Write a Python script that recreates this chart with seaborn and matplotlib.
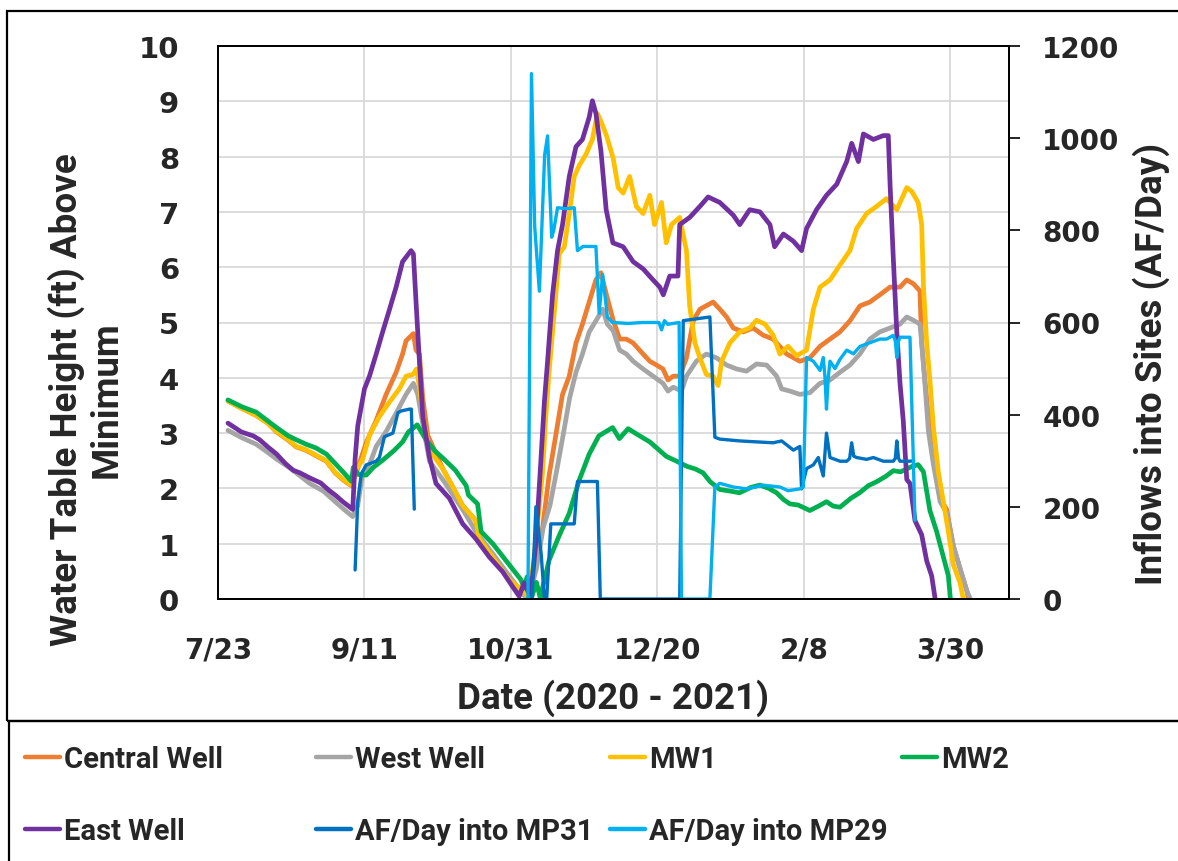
import numpy as np
import pandas as pd
import matplotlib
matplotlib.use("Agg")
import matplotlib.pyplot as plt
import seaborn as sns
from matplotlib.lines import Line2D
from matplotlib.patches import Rectangle

# ---------------- data ----------------
START = pd.Timestamp("2020-07-23")
x_tick_days = [0, 50, 100, 150, 200, 250]
x_tick_labels = ["7/23", "9/11", "10/31", "12/20", "2/8", "3/30"]
left_ticks = list(range(0, 11))
right_ticks = [0, 200, 400, 600, 800, 1000, 1200]

central_days = [3.4, 8, 13, 17, 20, 24, 26.7, 30, 33.5, 37, 40, 43, 45.5, 47.7, 50.6, 54, 57.4, 60.8, 63, 64.2,
                66.7, 67.6, 68.75, 69.9, 71.6, 76.7, 80.1, 83.5, 88, 89.2, 93.75, 99.4, 104, 106.3, 109.1, 110.8,
                113, 115.3, 117.6, 119.9, 122.2, 124.4, 126.7, 129, 130.7, 132.6, 134.9, 137.1, 139.4, 141.7,
                145.1, 147.4, 149.7, 151.9, 153.6, 155.4, 157.6, 159.9, 162.2, 164.5, 169, 171.3, 173.6, 175.9,
                179.3, 182.7, 186.1, 189.5, 194.1, 198.6, 202, 205.5, 208.9, 212.3, 215.7, 219.1, 222.5, 225.9,
                229.4, 232.8, 235.1, 237.4, 239.6, 240.2, 241.3, 243, 244.8, 246.5, 248.7, 251, 253.3, 255.6, 256.2]
central_ft = [3.58, 3.45, 3.32, 3.18, 3.02, 2.87, 2.75, 2.69, 2.59, 2.49, 2.28, 2.14, 2.05, 2.36, 2.83, 3.23, 3.70,
              4.10, 4.43, 4.67, 4.80, 4.50, 4.43, 3.63, 2.96, 2.36, 2.03, 1.69, 1.42, 1.09, 0.76, 0.35, 0.15, 0.0,
              0.82, 1.29, 2.23, 2.96, 3.70, 4.03, 4.63, 4.97, 5.37, 5.77, 5.90, 5.50, 5.04, 4.70, 4.70, 4.63, 4.43,
              4.30, 4.23, 4.16, 3.96, 4.03, 4.03, 4.36, 5.03, 5.24, 5.37, 5.24, 5.10, 4.90, 4.83, 4.90, 4.77, 4.70,
              4.43, 4.30, 4.36, 4.57, 4.70, 4.83, 5.03, 5.30, 5.37, 5.50, 5.64, 5.64, 5.77, 5.70, 5.57, 4.63, 3.96,
              3.03, 2.49, 1.82, 1.62, 0.96, 0.55, 0.15, 0.0]

west_days = [3.4, 8, 13, 17, 20, 25, 31.3, 36, 40, 43, 46, 47.7, 49.4, 51.7, 54, 57.4, 60.8, 64.2, 66.7, 68.2,
             69.9, 72.2, 76.7, 80, 83.5, 88, 93.75, 99.4, 104, 106, 108.7, 111, 113.3, 115.5, 117.8, 120, 122.2,
             124.4, 126.7, 129, 131.3, 132.9, 134.9, 137.1, 139.4, 141.7, 145.1, 148.5, 151.9, 153.6, 155.4, 158.2,
             159.9, 163.3, 166.7, 170.2, 173.6, 177, 180.4, 183.8, 187.3, 190.7, 192.4, 195.2, 198.6, 202, 205.5,
             208.9, 212.3, 215.7, 219.1, 222.5, 225.9, 229.4, 232.8, 235.1, 237.4, 239.6, 240.2, 241.3, 242.5,
             244.2, 246.5, 248.7, 251, 253.3, 255.6, 256.8]
west_ft = [3.05, 2.92, 2.80, 2.65, 2.53, 2.35, 2.09, 1.95, 1.76, 1.62, 1.49, 1.69, 2.29, 2.43, 2.76, 3.03, 3.36,
           3.70, 3.90, 3.70, 3.16, 2.49, 2.16, 1.90, 1.62, 1.22, 0.82, 0.42, 0.09, 0.0, 0.55, 1.29, 1.69, 2.29,
           2.96, 3.63, 4.10, 4.43, 4.83, 5.03, 5.24, 4.97, 4.85, 4.50, 4.43, 4.30, 4.16, 4.03, 3.90, 3.76, 3.83,
           3.76, 4.03, 4.30, 4.43, 4.36, 4.23, 4.16, 4.12, 4.25, 4.23, 4.03, 3.80, 3.76, 3.70, 3.73, 3.90, 3.96,
           4.10, 4.23, 4.43, 4.70, 4.83, 4.90, 4.97, 5.10, 5.04, 4.97, 4.63, 3.90, 3.03, 2.43, 1.76, 1.56, 0.96,
           0.55, 0.15, 0.0]

mw1_days = [3.4, 8, 13, 17, 20, 24, 26.7, 30, 33.5, 37, 40, 43, 45.5, 47.5, 49.4, 51.7, 55.1, 58.5, 61.9, 64.2,
            66.5, 67.8, 68.75, 69.9, 72.2, 76.7, 80.1, 83.5, 88, 89.2, 93.75, 99.4, 104, 106.25, 108, 109.7, 110.8,
            111.9, 113, 114.2, 115.3, 116.5, 118.2, 119.9, 121.6, 123.3, 125.6, 127.8, 129.5, 130.7, 132.6, 134.9,
            136.6, 138.3, 140.5, 142.8, 145.1, 147.4, 149, 151.4, 153, 154.8, 157.6, 159.9, 161, 162.8, 164.5,
            166.7, 169, 170.7, 171.9, 174.7, 178.1, 181.5, 183.8, 186.7, 189.5, 191.8, 194.6, 197.5, 200.9, 203.2,
            205.5, 208.9, 212.3, 215.7, 218, 221.4, 224.8, 228.2, 231.7, 235.1, 236.8, 239, 240.2, 240.8, 241.9,
            243, 244.2, 245.9, 247.6, 249.3, 251, 253.3, 254.4]
mw1_ft = [3.58, 3.45, 3.32, 3.18, 3.03, 2.88, 2.76, 2.70, 2.60, 2.50, 2.29, 2.15, 2.06, 2.36, 2.53, 2.96, 3.30,
          3.56, 3.80, 4.03, 4.06, 4.16, 3.83, 3.30, 2.69, 2.36, 2.03, 1.69, 1.42, 1.09, 0.76, 0.35, 0.15, 0.0, 0.82,
          1.69, 2.29, 3.30, 4.10, 4.83, 5.50, 6.24, 6.37, 6.97, 7.64, 7.84, 8.04, 8.31, 8.78, 8.64, 8.38, 7.97,
          7.44, 7.34, 7.64, 7.10, 6.97, 7.30, 6.77, 7.17, 6.44, 6.77, 6.90, 6.30, 5.30, 4.63, 4.36, 4.06, 4.03,
          3.86, 4.30, 4.63, 4.83, 4.90, 5.04, 4.97, 4.77, 4.43, 4.57, 4.40, 4.50, 5.24, 5.64, 5.77, 6.04, 6.30,
          6.70, 6.97, 7.10, 7.24, 7.04, 7.44, 7.37, 7.17, 6.77, 5.64, 4.63, 3.96, 3.10, 2.29, 1.76, 1.22, 0.62,
          0.29, 0.0]

mw2_days = [3.4, 8, 13, 17, 20, 24, 26.7, 30, 33.5, 37, 40, 43, 45.5, 46.2, 48, 50.6, 53, 56, 60, 63, 65, 68, 71,
            74, 76.7, 81, 84.7, 85.5, 88.6, 89.8, 93.8, 99.4, 103.4, 104.5, 105.5, 107, 108.7, 110, 111, 113, 116.5,
            119.9, 123.3, 126.7, 130, 134.7, 137, 140, 143, 147.4, 150, 153, 157, 160, 163, 165.6, 168, 171.3, 175,
            178, 182, 185, 188, 190.7, 193, 195.2, 198, 202, 205, 207.7, 210, 212.3, 216, 219, 222, 224.8, 228,
            230.5, 233, 235, 237, 239, 240.8, 243, 245.3, 247.6, 249.3, 250]
mw2_ft = [3.60, 3.48, 3.38, 3.22, 3.10, 2.95, 2.88, 2.80, 2.73, 2.62, 2.45, 2.28, 2.13, 2.38, 2.25, 2.24, 2.38,
          2.50, 2.68, 2.84, 3.02, 3.15, 2.88, 2.68, 2.55, 2.33, 2.05, 1.88, 1.72, 1.22, 1.00, 0.62, 0.35, 0.20,
          0.40, 0.02, 0.30, 0.02, 0.25, 0.70, 1.15, 1.55, 2.15, 2.62, 2.95, 3.10, 2.90, 3.08, 2.98, 2.84, 2.72,
          2.58, 2.48, 2.40, 2.35, 2.28, 2.12, 1.98, 1.95, 1.92, 2.02, 2.06, 2.00, 1.92, 1.80, 1.72, 1.70, 1.60,
          1.68, 1.76, 1.68, 1.66, 1.82, 1.92, 2.05, 2.12, 2.22, 2.32, 2.30, 2.35, 2.40, 2.43, 2.30, 1.60, 1.22,
          0.76, 0.42, 0.0]

east_days = [3.4, 8, 12, 14.2, 17, 20, 23, 25.6, 28, 31.3, 35, 38, 40, 42.6, 46, 46.8, 47.7, 50, 51.7, 54, 56.2,
             58.5, 60.8, 63, 65.9, 66.7, 67.6, 68.75, 69.9, 72.2, 74.4, 79, 83.5, 88, 92.6, 97.2, 100.6, 102.8,
             104.5, 106.25, 107.4, 108.5, 110.2, 111.4, 112.5, 114.2, 115.9, 117.6, 119.9, 122.2, 124.4, 126.7,
             127.8, 129, 130.7, 132.5, 134.8, 138.3, 141.7, 145.1, 148.5, 150.8, 152, 154.2, 157, 157.6, 161,
             164.5, 167.3, 171.3, 175.9, 178.1, 181.5, 185, 188.4, 190, 193, 196.4, 199.2, 200.9, 204.3, 207.7,
             211.2, 214.6, 216.3, 218.6, 220.3, 223.7, 227.1, 228.8, 229.4, 230.5, 231.7, 232.8, 233.9, 235.1,
             236.2, 237.9, 240.2, 241.9, 243.6, 244.8]
east_ft = [3.18, 3.02, 2.95, 2.88, 2.75, 2.62, 2.45, 2.33, 2.28, 2.19, 2.10, 1.96, 1.88, 1.76, 1.62, 2.53, 3.13,
           3.80, 4.03, 4.43, 4.83, 5.23, 5.64, 6.10, 6.30, 6.24, 5.37, 4.30, 3.30, 2.56, 2.09, 1.82, 1.36, 1.09,
           0.76, 0.49, 0.22, 0.05, 0.29, 0.09, 0.42, 1.02, 2.49, 3.56, 4.30, 5.50, 6.30, 6.77, 7.64, 8.18, 8.31,
           8.71, 9.01, 8.78, 8.11, 7.04, 6.44, 6.37, 6.10, 5.97, 5.77, 5.64, 5.50, 5.84, 5.84, 6.77, 6.90, 7.10,
           7.27, 7.17, 6.94, 6.77, 7.04, 7.00, 6.77, 6.37, 6.60, 6.47, 6.30, 6.70, 7.04, 7.30, 7.50, 7.91, 8.24,
           7.91, 8.41, 8.31, 8.38, 8.38, 7.50, 6.17, 4.83, 3.90, 3.23, 2.16, 2.09, 1.42, 1.16, 0.69, 0.42, 0.0]

mp31_days_a = [46.8, 47.7, 48.9, 50.6, 54, 55.1, 56.8, 59.7, 61.4, 62.5, 65.3, 66, 67]
mp31_af_a = [63, 211, 271, 291, 299, 307, 352, 360, 404, 408, 412, 412, 195]
mp31_days_b = [105.5, 107.2, 108.5, 110.3, 111.4, 112.2, 113.6, 121.6, 122.7, 129.5, 130.5, 157.6, 158.8, 167.9,
               169.6, 171.3, 178.1, 189.5, 192.4, 196.4, 198.6, 199.2, 200.9, 203.2, 204.9, 206.6, 207.7, 208.9,
               212.3, 214.6, 215.6, 216.3, 217, 218, 221.4, 223.7, 227.1, 230.5, 231.2, 231.7, 232.3, 232.8, 236.2,
               237.5]
mp31_af_b = [0, 0, 200, 99, 0, 0, 163, 163, 255, 255, 0, 0, 604, 612, 351, 347, 343, 339, 343, 323, 331, 239, 283,
             291, 307, 267, 360, 307, 299, 299, 305, 339, 310, 307, 303, 307, 299, 299, 305, 343, 305, 299, 299,
             300]

mp29_days = [105.8, 107.0, 108.1, 109.7, 111.5, 112.5, 113.9, 114.6, 115.9, 118.75, 121.6, 122.7, 124.6, 129,
             130.1, 131.3, 132.9, 134.7, 140, 145, 150.5, 151.4, 152.4, 153.5, 157.4, 158.2, 167.9, 169.6, 171.3,
             175.9, 180.4, 186.1, 191.8, 194.6, 198.6, 199.8, 200.9, 203.2, 205.5, 206.6, 207.2, 207.7, 208.3,
             208.9, 210.6, 212.3, 214.6, 216.9, 219.1, 222.5, 225.9, 228.2, 230.5, 231.2, 231.7, 232.3, 232.8,
             236.2, 237.9]
mp29_af = [0, 1140, 808, 668, 964, 1005, 785, 800, 849, 847, 849, 756, 765, 765, 620, 704, 612, 600, 598, 600,
           600, 584, 604, 596, 600, 0, 0, 243, 251, 243, 239, 247, 243, 235, 239, 243, 524, 516, 496, 524, 480,
           412, 480, 516, 500, 520, 540, 532, 548, 556, 564, 564, 572, 560, 524, 560, 568, 568, 171]

well_names = ["Central Well", "West Well", "MW1", "MW2", "East Well"]
flow_names = ["AF/Day into MP31", "AF/Day into MP29"]
colors = {"Central Well": "#ED7D31", "West Well": "#A5A5A5", "MW1": "#FFC000", "MW2": "#00B050",
          "East Well": "#7030A0", "AF/Day into MP31": "#0070C0", "AF/Day into MP29": "#00B0F0"}


def frame(name, days, vals, seg=0):
    assert len(days) == len(vals), name
    return pd.DataFrame({"date": START + pd.to_timedelta(np.asarray(days, float), unit="D"),
                         "value": vals, "series": name, "seg": seg})


wells = pd.concat([frame("Central Well", central_days, central_ft),
                   frame("West Well", west_days, west_ft),
                   frame("MW1", mw1_days, mw1_ft),
                   frame("MW2", mw2_days, mw2_ft),
                   frame("East Well", east_days, east_ft)], ignore_index=True)
flows = pd.concat([frame("AF/Day into MP31", mp31_days_a, mp31_af_a, 0),
                   frame("AF/Day into MP31", mp31_days_b, mp31_af_b, 1),
                   frame("AF/Day into MP29", mp29_days, mp29_af, 2)], ignore_index=True)

# ---------------- figure ----------------
sns.set_style("white")
LABEL_FONT = ["Roboto", "DejaVu Sans"]
plt.rcParams["font.family"] = LABEL_FONT

W, H = 1178, 862
fig = plt.figure(figsize=(W / 100, H / 100), dpi=100)
L, R, T, B = 218, 1009, 47, 600
ax = fig.add_axes([L / W, (H - B) / H, (R - L) / W, (B - T) / H])
ax2 = ax.twinx()

sns.lineplot(data=wells, x="date", y="value", hue="series", hue_order=well_names, palette=colors,
             units="seg", estimator=None, sort=False, linewidth=3.4, legend=False, ax=ax)
sns.lineplot(data=flows, x="date", y="value", hue="series", hue_order=flow_names, palette=colors,
             units="seg", estimator=None, sort=False, linewidth=2.4, legend=False, ax=ax2)

ax.set_xlim(START, START + pd.Timedelta(days=270))
ax.set_ylim(0, 10)
ax2.set_ylim(0, 1200)

ax.set_xticks([START + pd.Timedelta(days=d) for d in x_tick_days])
ax.set_xticklabels(x_tick_labels, fontfamily="DejaVu Sans", fontweight="bold", fontsize=20)
ax.set_yticks(left_ticks)
ax.set_yticklabels([str(v) for v in left_ticks], fontfamily="DejaVu Sans", fontweight="bold", fontsize=21)
ax2.set_yticks(right_ticks)
ax2.set_yticklabels([str(v) for v in right_ticks], fontfamily="DejaVu Sans", fontweight="bold", fontsize=20)

ax.grid(True, color="#D9D9D9", linewidth=1.3)
ax.set_axisbelow(True)
ax.tick_params(axis="both", length=0)
ax.tick_params(axis="x", pad=26)
ax.tick_params(axis="y", pad=28)
ax2.tick_params(axis="y", length=8, width=1.2, direction="out", pad=16, color="black")
for a in (ax, ax2):
    a.set_xlabel("")
    a.set_ylabel("")
    for s in a.spines.values():
        s.set_color("black")
        s.set_linewidth(1.3)
        s.set_visible(True)

lab = dict(fontfamily=LABEL_FONT, fontweight="bold")
fig.text(613 / W, (H - 698) / H, "Date (2020 - 2021)", ha="center", va="center", fontsize=26.5, **lab)
fig.text(86 / W, (H - 400) / H, "Water Table Height (ft) Above\nMinimum", rotation=90, ha="center",
         va="center", multialignment="center", fontsize=26.5, linespacing=1.15, **lab)
fig.text(1151 / W, (H - 364) / H, "Inflows into Sites (AF/Day)", rotation=90, ha="center", va="center",
         fontsize=26.5, **lab)

# frames
fig.add_artist(Rectangle((7 / W, (H - 722) / H), 1.2, (722 - 12) / H, transform=fig.transFigure,
                         fill=False, edgecolor="black", linewidth=1.6, clip_on=False))
fig.add_artist(Rectangle((9 / W, -0.1), 1.2, (H - 722) / H + 0.1, transform=fig.transFigure,
                         fill=False, edgecolor="black", linewidth=1.6, clip_on=False))

# legend, column by column
columns = [(25, ["Central Well", "East Well"]), (316, ["West Well", "AF/Day into MP31"]),
           (610, ["MW1", "AF/Day into MP29"]), (902, ["MW2"])]
for x0, names in columns:
    handles = [Line2D([], [], color=colors[n], linewidth=3.2, label=n) for n in names]
    fig.legend(handles=handles, loc="upper left", bbox_to_anchor=(x0 / W, (H - 746) / H),
               frameon=False, borderpad=0, borderaxespad=0, handlelength=1.2, handletextpad=0.14,
               labelspacing=1.5, prop={"family": LABEL_FONT, "weight": "bold", "size": 21})

fig.savefig("out.png", dpi=100)
